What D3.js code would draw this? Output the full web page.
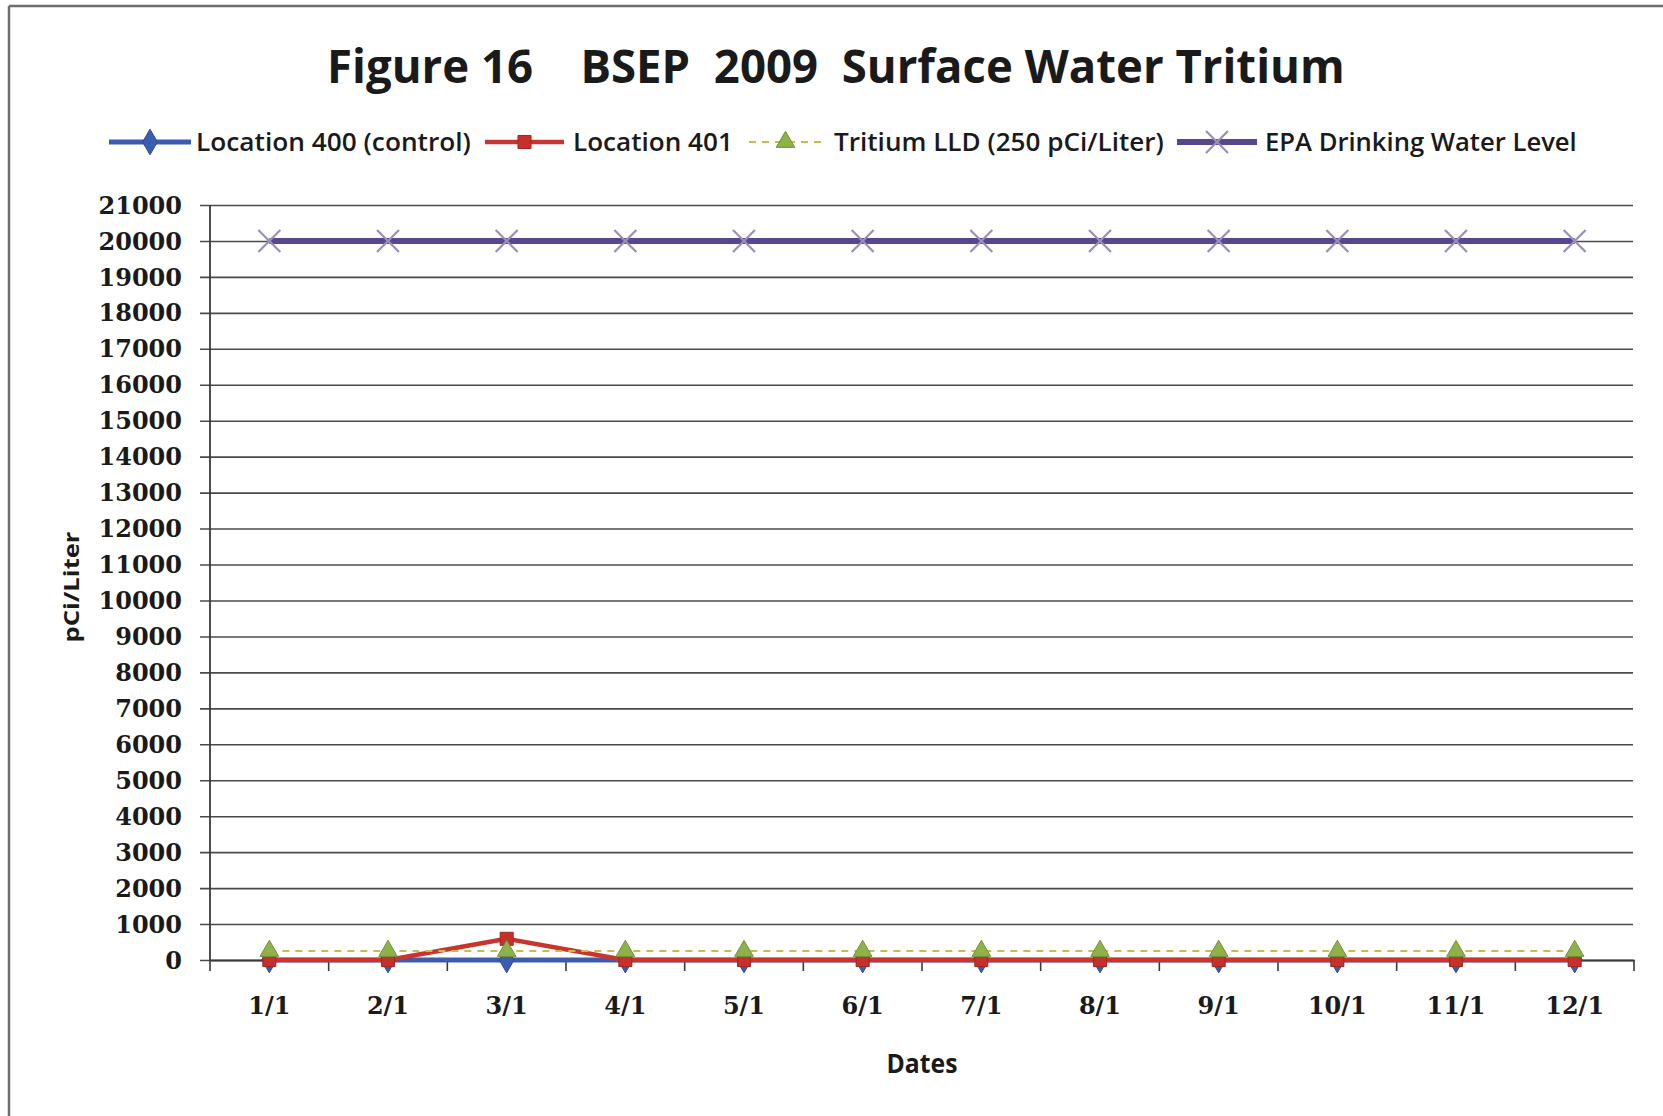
<!DOCTYPE html>
<html>
<head>
<meta charset="utf-8">
<script src="https://cdn.jsdelivr.net/npm/d3@7"></script>
<style>
html,body{margin:0;padding:0;background:#fff;}
svg{display:block;}
</style>
</head>
<body>
<svg id="chart" width="1663" height="1116"></svg>
<script>
const categories = ["1/1","2/1","3/1","4/1","5/1","6/1","7/1","8/1","9/1","10/1","11/1","12/1"];
const loc400 = [0,0,0,0,0,0,0,0,0,0,0,0];
const loc401 = [0,0,590,0,0,0,0,0,0,0,0,0];
const lld    = [250,250,250,250,250,250,250,250,250,250,250,250];
const epa    = [20000,20000,20000,20000,20000,20000,20000,20000,20000,20000,20000,20000];
const yTicks = [0,1000,2000,3000,4000,5000,6000,7000,8000,9000,10000,11000,12000,13000,14000,15000,16000,17000,18000,19000,20000,21000];
const seriesNames = ["Location 400 (control)","Location 401","Tritium LLD (250 pCi/Liter)","EPA Drinking Water Level"];
const titleText = "Figure 16\u00a0\u00a0\u00a0\u00a0BSEP\u00a0\u00a02009\u00a0\u00a0Surface Water Tritium";

const svg = d3.select("#chart");
const L = 210, R = 1634, T = 205, B = 960;

// frame
svg.append("line").attr("x1",9).attr("x2",1663).attr("y1",6).attr("y2",6).attr("stroke","#6e6e6e").attr("stroke-width",2.5);
svg.append("line").attr("x1",9).attr("x2",9).attr("y1",6).attr("y2",1116).attr("stroke","#6e6e6e").attr("stroke-width",2.5);

const x = d3.scaleBand().domain(categories).range([L,R]).paddingInner(0).paddingOuter(0);
const cx = c => x(c) + x.bandwidth()/2;
const y = d3.scaleLinear().domain([0,21000]).range([B,T]);

function fitText(g, txt, opts){
  const t = g.append("text").text(txt)
    .attr("font-family",opts.family).attr("font-weight",opts.weight||"normal")
    .attr("font-size",opts.size).attr("fill",opts.fill||"#1a1a1a");
  const w = t.node().getComputedTextLength();
  const sx = opts.width / w;
  let tx = opts.x;
  if(opts.anchor==="middle") tx = opts.x - opts.width/2;
  if(opts.rotate){
    t.attr("transform",`translate(${opts.x},${opts.y}) rotate(-90) translate(${-opts.width/2},0) scale(${sx},1)`);
  } else {
    t.attr("transform",`translate(${tx},${opts.y}) scale(${sx},1)`);
  }
  return t;
}

// gridlines
const yAxis = d3.axisLeft(y).tickValues(yTicks).tickSize(-(R-L)-10).tickPadding(0).tickFormat(d=>d);
const gy = svg.append("g").attr("transform",`translate(${L},0)`).call(yAxis);
gy.select(".domain").remove();
gy.selectAll(".tick line").attr("x1",-10).attr("x2",R-L-1).attr("stroke","#4a4a4a").attr("stroke-width",1.6);
gy.selectAll(".tick text").remove();
yTicks.forEach(v=>{
  svg.append("text").attr("x",182).attr("y",y(v)).attr("dy","0.36em").attr("text-anchor","end")
    .attr("font-family","DejaVu Serif").attr("font-weight","bold").attr("font-size",24).attr("fill","#1a1a1a").text(v);
});
svg.append("line").attr("x1",L).attr("x2",L).attr("y1",T).attr("y2",B).attr("stroke","#3a3a3a").attr("stroke-width",1.8);

// x axis
const xAxis = d3.axisBottom(x).tickSize(0).tickFormat("");
const gx = svg.append("g").attr("transform",`translate(0,${B})`).call(xAxis);
gx.select(".domain").attr("stroke","#3a3a3a").attr("stroke-width",1.8);
gx.selectAll(".tick").remove();
const bounds = categories.map(c=>x(c)).concat([R]);
gx.selectAll("line.xt").data(bounds).enter().append("line").attr("class","xt")
  .attr("x1",d=>d).attr("x2",d=>d).attr("y1",0).attr("y2",11).attr("stroke","#3a3a3a").attr("stroke-width",1.6);
categories.forEach(c=>{
  svg.append("text").attr("x",cx(c)).attr("y",1014).attr("text-anchor","middle")
    .attr("font-family","DejaVu Serif").attr("font-weight","bold").attr("font-size",24).attr("fill","#1a1a1a").text(c);
});

// titles
fitText(svg, titleText, {family:"Open Sans", weight:"bold", size:46, x:327, y:83, width:1018, fill:"#1a1a1a"});
fitText(svg, "Dates", {family:"Open Sans", weight:"bold", size:27, x:922, y:1073, width:71, anchor:"middle"});
fitText(svg, "pCi/Liter", {family:"Open Sans", weight:"bold", size:22, x:79, y:587, width:111, rotate:true});

const styles = [
  {name:seriesNames[0], data:loc400, stroke:"#3b5cb0", width:5, dash:null, marker:"diamond", fill:"#3b5cb0", msize:190},
  {name:seriesNames[1], data:loc401, stroke:"#c9352c", width:4.5, dash:null, marker:"square", fill:"#c6302a", msize:170},
  {name:seriesNames[2], data:lld, stroke:"#c2c23c", width:2, dash:"7,6", marker:"triangle", fill:"#8eb24a", msize:150},
  {name:seriesNames[3], data:epa, stroke:"#58478f", width:6, dash:null, marker:"x", fill:"none", msize:0}
];
const symbolMap = {diamond:d3.symbolDiamond, square:d3.symbolSquare, triangle:d3.symbolTriangle};

function drawMarker(g, s, px, py){
  if(s.marker==="x"){
    const h = 11;
    g.append("path").attr("d",`M${px-h},${py-h}L${px+h},${py+h}M${px-h},${py+h}L${px+h},${py-h}`)
      .attr("stroke","#9a8fb8").attr("stroke-width",2.2).attr("fill","none");
  } else {
    g.append("path").attr("d",d3.symbol().type(symbolMap[s.marker]).size(s.msize)())
      .attr("transform",`translate(${px},${py})`)
      .attr("fill",s.fill).attr("stroke",d3.color(s.fill).darker(0.6)).attr("stroke-width",1);
  }
}

const line = d3.line().x((d,i)=>cx(categories[i])).y(d=>y(d));
styles.forEach(s=>{
  const g = svg.append("g");
  const p = g.append("path").datum(s.data).attr("d",line).attr("fill","none")
    .attr("stroke",s.stroke).attr("stroke-width",s.width).attr("stroke-linejoin","round");
  if(s.dash) p.attr("stroke-dasharray",s.dash);
  s.data.forEach((v,i)=>drawMarker(g, s, cx(categories[i]), y(v)));
});

// legend
const legendItems = [
  {lx1:109, lx2:191, tx:196, tw:275},
  {lx1:485, lx2:564, tx:573, tw:160},
  {lx1:749, lx2:822, tx:834, tw:330},
  {lx1:1177, lx2:1257, tx:1265, tw:312}
];
const ly = 142;
styles.forEach((s,i)=>{
  const it = legendItems[i];
  const g = svg.append("g");
  const ln = g.append("line").attr("x1",it.lx1).attr("x2",it.lx2).attr("y1",ly).attr("y2",ly)
    .attr("stroke",s.stroke).attr("stroke-width",s.width);
  if(s.dash) ln.attr("stroke-dasharray",s.dash);
  drawMarker(g, s, (it.lx1+it.lx2)/2, ly);
  fitText(svg, s.name, {family:"Open Sans", weight:"600", size:25, x:it.tx, y:151, width:it.tw});
});
</script>
</body>
</html>
